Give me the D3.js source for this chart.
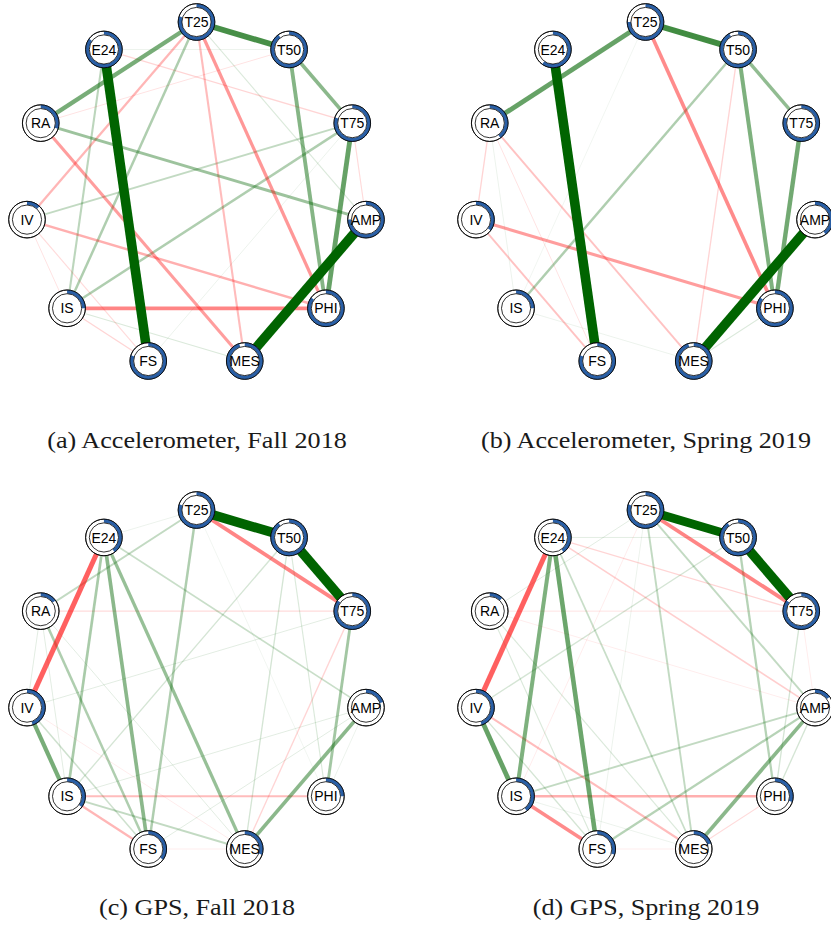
<!DOCTYPE html>
<html>
<head>
<meta charset="utf-8">
<script src="https://cdn.jsdelivr.net/npm/d3@7"></script>
<style>
  html, body { margin: 0; padding: 0; background: #fff; }
  svg { display: block; }
</style>
</head>
<body>
<svg id="chart" width="831" height="945"></svg>
<script>
// Node labels, placed clockwise on a circle starting at the top
const nodes = ["T25", "T50", "T75", "AMP", "PHI", "MES", "FS", "IS", "IV", "RA", "E24"];

// Panel captions
const captions = [
  "(a) Accelerometer, Fall 2018",
  "(b) Accelerometer, Spring 2019",
  "(c) GPS, Fall 2018",
  "(d) GPS, Spring 2019"
];

// Node predictability (share of the ring drawn in blue), per panel
const pieA = [0.80, 0.90, 0.80, 0.75, 0.85, 0.95, 0.80, 0.25, 0.12, 0.30, 0.85];
const pieB = [0.75, 0.92, 0.80, 0.40, 0.85, 0.95, 0.80, 0.25, 0.35, 0.40, 0.60];
const pieC = [0.80, 0.90, 0.85, 0.20, 0.25, 0.30, 0.35, 0.35, 0.45, 0.15, 0.40];
const pieD = [0.80, 0.90, 0.85, 0.15, 0.30, 0.20, 0.30, 0.40, 0.45, 0.12, 0.40];

// Edges: [node, node, partial correlation]
const edgesA = [
  ["T25","T50",0.30],["E24","FS",0.50],["AMP","MES",0.50],["T25","RA",0.22],
  ["T50","PHI",0.20],["T50","T75",0.19],["T75","PHI",0.25],["RA","AMP",0.16],
  ["T25","IS",0.13],["E24","IS",0.11],["T75","IS",0.13],["T75","IV",0.10],
  ["T25","MES",-0.11],["T25","PHI",-0.17],["T25","IV",-0.12],["RA","MES",-0.16],
  ["IS","PHI",-0.20],["IV","PHI",-0.13],["IV","FS",-0.06],["IV","IS",-0.05],
  ["IS","FS",-0.07],["IS","MES",0.06],["E24","T50",0.04],["E24","T75",-0.07],
  ["T50","RA",-0.05],["T25","AMP",0.06],["T75","AMP",-0.06],["FS","T75",0.04]
];
const edgesB = [
  ["T25","T50",0.31],["E24","FS",0.50],["AMP","MES",0.50],["T25","RA",0.25],
  ["T50","PHI",0.21],["T50","T75",0.18],["T75","PHI",0.23],["T25","PHI",-0.19],
  ["IV","PHI",-0.16],["T50","IS",0.13],["T50","MES",-0.07],["RA","IV",-0.07],
  ["RA","MES",-0.10],["RA","FS",-0.05],["RA","IS",0.04],["IV","FS",-0.10],
  ["T25","IS",0.03],["IS","MES",0.04],["PHI","MES",0.06]
];
const edgesC = [
  ["T25","T50",0.50],["T50","T75",0.50],["T25","T75",-0.20],["E24","IV",-0.26],
  ["IV","IS",0.22],["E24","FS",0.19],["E24","IS",0.14],["E24","MES",0.17],
  ["T25","FS",0.13],["T75","PHI",0.15],["AMP","MES",0.19],["T25","RA",0.10],
  ["RA","FS",0.13],["IS","PHI",-0.11],["IS","FS",-0.12],["IS","MES",0.10],
  ["RA","T75",-0.06],["E24","AMP",0.09],["T50","IS",0.07],["T50","MES",0.07],
  ["T50","PHI",0.06],["T75","MES",-0.07],["T75","IV",0.05],["AMP","IS",0.05],
  ["AMP","FS",0.05],["AMP","PHI",0.04],["IV","FS",0.08],["IV","MES",-0.04],
  ["RA","IS",0.05],["RA","IV",0.05],["RA","MES",0.05],["E24","T25",0.04],
  ["T25","PHI",0.03],["FS","MES",-0.04]
];
const edgesD = [
  ["T25","T50",0.45],["T50","T75",0.50],["T25","T75",-0.20],["E24","IV",-0.26],
  ["IV","IS",0.25],["E24","IS",0.21],["E24","FS",0.24],["IS","FS",-0.19],
  ["AMP","MES",0.19],["IS","PHI",-0.13],["IV","MES",-0.11],["T50","PHI",0.12],
  ["AMP","FS",0.12],["AMP","IS",0.10],["T25","MES",0.10],["T25","AMP",0.10],
  ["E24","MES",0.09],["E24","T75",-0.07],["E24","AMP",-0.08],["T50","IV",0.07],
  ["T25","RA",0.05],["T25","IS",-0.04],["E24","T50",0.05],["RA","T75",-0.05],
  ["RA","AMP",-0.04],["RA","MES",0.06],["RA","FS",0.06],["T75","PHI",0.07],
  ["T75","AMP",-0.04],["AMP","PHI",0.07],["PHI","MES",-0.06],["FS","MES",-0.04],
  ["IV","FS",0.07],["IS","MES",0.04],["T25","FS",0.04]
];

const panels = [
  { edges: edgesA, pie: pieA, caption: captions[0], dx: 0,   dy: 0,   capY: 448 },
  { edges: edgesB, pie: pieB, caption: captions[1], dx: 449, dy: 0,   capY: 448 },
  { edges: edgesC, pie: pieC, caption: captions[2], dx: 0,   dy: 488, capY: 915 },
  { edges: edgesD, pie: pieD, caption: captions[3], dx: 449, dy: 488, capY: 915 }
];

const svg = d3.select("#chart");

// Circular layout, each axis stretched to fill its box independently
const layout = nodes.map((name, i) => {
  const a = i * 2 * Math.PI / nodes.length;
  return { name, lx: Math.sin(a), ly: Math.cos(a) };
});
const xExt = d3.extent(layout, d => d.lx);
const yExt = d3.extent(layout, d => d.ly);

const maxW = 0.5;
const widthScale = d3.scaleLinear().domain([0, maxW]).range([0, 9.6]);
const alphaScale = d3.scaleLinear().domain([0, maxW]).range([0, 1.2]).clamp(true);
const posCol = "#006400", negCol = "#ff0000";

const rOuter = 18.3, rInner = 14.6;
const ring = d3.arc().innerRadius(rInner).outerRadius(rOuter).startAngle(0);

const capFont = "'Liberation Serif', 'Times New Roman', serif";
const capSize = 24;
const capStretch = 1.09;   // widen the serif glyphs a little

panels.forEach(p => {
  const x = d3.scaleLinear().domain(xExt).range([27 + p.dx, 366 + p.dx]);
  const y = d3.scaleLinear().domain(yExt).range([361 + p.dy, 22 + p.dy]);
  const pos = {};
  layout.forEach(d => { pos[d.name] = [x(d.lx), y(d.ly)]; });

  const g = svg.append("g");

  // Edges, faint ones first so the strong ones sit on top
  const sorted = p.edges.slice().sort((a, b) => Math.abs(a[2]) - Math.abs(b[2]));
  g.append("g").selectAll("line")
    .data(sorted)
    .join("line")
    .attr("x1", d => pos[d[0]][0]).attr("y1", d => pos[d[0]][1])
    .attr("x2", d => pos[d[1]][0]).attr("y2", d => pos[d[1]][1])
    .attr("stroke", d => d[2] > 0 ? posCol : negCol)
    .attr("stroke-opacity", d => Math.min(1, alphaScale(Math.abs(d[2]))))
    .attr("stroke-width", d => Math.max(0.8, widthScale(Math.abs(d[2]))));

  // Nodes with predictability rings
  const ng = g.append("g").selectAll("g")
    .data(layout)
    .join("g")
    .attr("transform", d => `translate(${pos[d.name][0]},${pos[d.name][1]})`);

  ng.append("circle").attr("r", rOuter).attr("fill", "#fff")
    .attr("stroke", "#000").attr("stroke-width", 0.8);
  ng.append("path")
    .attr("d", (d, i) => ring.endAngle(2 * Math.PI * p.pie[i])())
    .attr("fill", "#2a5fa5");
  ng.append("circle").attr("r", rOuter).attr("fill", "none")
    .attr("stroke", "#000").attr("stroke-width", 0.8);
  ng.append("circle").attr("r", rInner).attr("fill", "#fff")
    .attr("stroke", "#000").attr("stroke-width", 0.8);
  ng.append("text")
    .attr("text-anchor", "middle").attr("dy", "0.36em")
    .attr("font-family", "'Liberation Sans', Arial, sans-serif")
    .attr("font-size", 14)
    .attr("fill", "#000")
    .text(d => d.name);

  // Caption under the panel
  svg.append("g")
    .attr("transform", `translate(${197 + p.dx},${p.capY}) scale(${capStretch},1)`)
    .append("text")
    .attr("text-anchor", "middle")
    .attr("font-family", capFont)
    .attr("font-size", capSize)
    .attr("fill", "#1a1a1a")
    .text(p.caption);
});
</script>
</body>
</html>
